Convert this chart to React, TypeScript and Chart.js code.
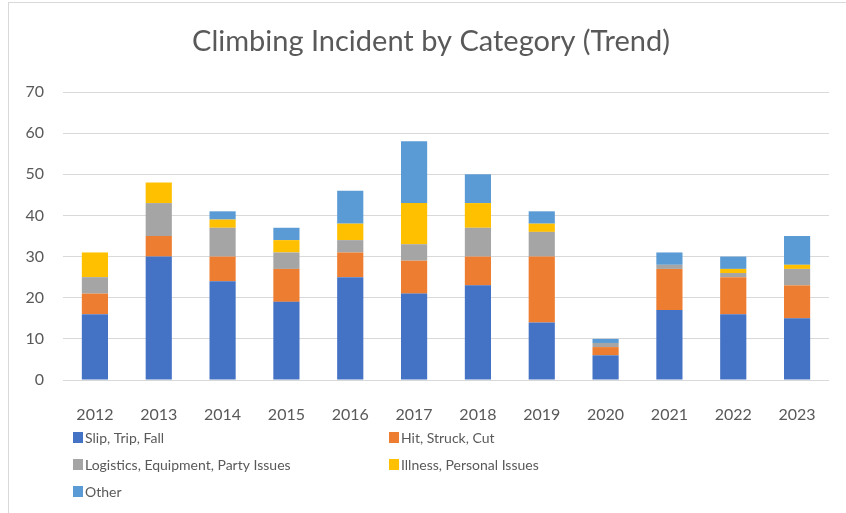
import React, { useEffect, useRef } from "react";
import { Chart, registerables } from "chart.js";

Chart.register(...registerables);

const titleText = "Climbing Incident by Category (Trend)";
const years = ["2012", "2013", "2014", "2015", "2016", "2017", "2018", "2019", "2020", "2021", "2022", "2023"];
const slipTripFall = [16, 30, 24, 19, 25, 21, 23, 14, 6, 17, 16, 15];
const hitStruckCut = [5, 5, 6, 8, 6, 8, 7, 16, 2, 10, 9, 8];
const logisticsEquipment = [4, 8, 7, 4, 3, 4, 7, 6, 1, 1, 1, 4];
const illnessPersonal = [6, 5, 2, 3, 4, 10, 6, 2, 0, 0, 1, 1];
const other = [0, 0, 2, 3, 8, 15, 7, 3, 1, 3, 3, 7];
const yTicks = [0, 10, 20, 30, 40, 50, 60, 70];

const seriesNames = ["Slip, Trip, Fall", "Hit, Struck, Cut", "Logistics, Equipment, Party Issues", "Illness, Personal Issues", "Other"];
const seriesColors = ["#4472C4", "#ED7D31", "#A5A5A5", "#FFC000", "#5B9BD5"];

const FONT = "Lato, 'Open Sans', sans-serif";
const TEXT = "#595959";

const chartTitle = {
  id: "chartTitle",
  afterDraw(chart: any) {
    const ctx = chart.ctx;
    ctx.save();
    ctx.font = `29px ${FONT}`;
    ctx.fillStyle = TEXT;
    ctx.textAlign = "center";
    ctx.textBaseline = "middle";
    ctx.fillText(titleText, 431, 42);
    ctx.restore();
  },
};

const gridLegend = {
  id: "gridLegend",
  afterDraw(chart: any) {
    const ctx = chart.ctx;
    const colX = [73, 389];
    const rowY = [438, 465, 492];
    ctx.save();
    ctx.font = `14px ${FONT}`;
    ctx.textBaseline = "middle";
    ctx.textAlign = "left";
    chart.data.datasets.forEach((ds: any, i: number) => {
      const x = colX[i % 2];
      const y = rowY[Math.floor(i / 2)];
      ctx.fillStyle = ds.backgroundColor;
      ctx.fillRect(x, y - 6, 10, 11);
      ctx.fillStyle = TEXT;
      ctx.fillText(ds.label, x + 12, y);
    });
    ctx.restore();
  },
};

export default function App() {
  const ref = useRef<HTMLCanvasElement | null>(null);

  useEffect(() => {
    if (!ref.current) return;
    const values = [slipTripFall, hitStruckCut, logisticsEquipment, illnessPersonal, other];
    const chart = new Chart(ref.current, {
      type: "bar",
      data: {
        labels: years,
        datasets: values.map((v, i) => ({
          label: seriesNames[i],
          data: v,
          backgroundColor: seriesColors[i],
          borderWidth: 0,
          categoryPercentage: 1,
          barPercentage: 0.41,
        })),
      },
      options: {
        responsive: false,
        animation: false,
        devicePixelRatio: 1,
        layout: { padding: { left: 0, right: 17, top: 92, bottom: 88 } },
        plugins: {
          legend: { display: false },
          tooltip: { enabled: false },
          title: { display: false },
        },
        scales: {
          x: {
            stacked: true,
            grid: { display: false },
            border: { display: false },
            ticks: { color: TEXT, font: { family: FONT, size: 16 }, padding: 17 },
            afterFit(scale: any) {
              scale.height = 45;
            },
          },
          y: {
            stacked: true,
            min: 0,
            max: 70,
            afterBuildTicks(scale: any) {
              scale.ticks = yTicks.map((v) => ({ value: v }));
            },
            grid: { color: "#d9d9d9", lineWidth: 1, drawTicks: false },
            border: { display: false },
            ticks: { color: TEXT, font: { family: FONT, size: 16 }, padding: 19 },
            afterFit(scale: any) {
              scale.width = 63;
            },
          },
        },
      },
      plugins: [chartTitle, gridLegend],
    });
    return () => chart.destroy();
  }, []);

  return (
    <div style={{ position: "fixed", left: 0, top: 0, width: 846, height: 513, overflow: "hidden", background: "#fff" }}>
      <div style={{ position: "absolute", left: 8, top: 2, width: 900, height: 600, border: "1px solid #d9d9d9", boxSizing: "border-box" }} />
      <canvas ref={ref} width={846} height={513} style={{ position: "absolute", left: 0, top: 0 }} />
    </div>
  );
}
